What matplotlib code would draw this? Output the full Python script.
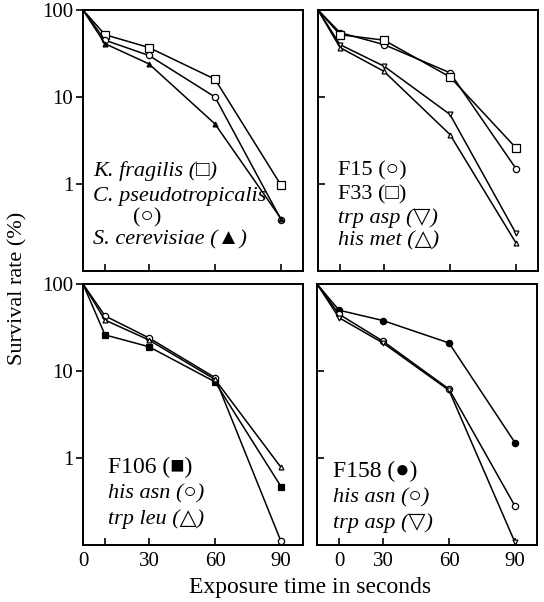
import matplotlib
matplotlib.use('Agg')
import matplotlib.pyplot as plt

# ── Data ───────────────────────────────────────────
times = [0, 10, 30, 60, 90]

# top left
k_fragilis   = [100, 52, 37, 16, 0.97]
c_pseudo     = [100, 45, 30, 10, 0.39]
s_cerevisiae = [100, 41, 24, 4.9, 0.40]

# top right
f15         = [100, 55, 40, 19, 1.5]
f33         = [100, 52, 45, 17, 2.6]
trp_asp_tr  = [100, 40, 22.6, 6.3, 0.27]
his_met     = [100, 37, 19.7, 3.7, 0.21]

# bottom left
f106        = [100, 26, 19, 7.5, 0.47]
his_asn_bl  = [100, 43, 24, 8.4, 0.11]
trp_leu     = [100, 38.5, 22.7, 8.0, 0.78]

# bottom right
f158        = [100, 50, 38, 21, 1.5]
his_asn_br  = [100, 45, 22, 6.2, 0.28]
trp_asp_br  = [100, 41, 21, 6.0, 0.107]

SERIF = ['Liberation Serif', 'DejaVu Sans']
plt.rcParams['font.family'] = SERIF

W, H = 544, 602
fig = plt.figure(figsize=(W / 100, H / 100), dpi=100)

def make_ax(x0, y_top, y_bot, width=220):
    return fig.add_axes([x0 / W, 1 - y_bot / H, width / W, (y_bot - y_top) / H])

ax_tl = make_ax(83, 10, 271)
ax_tr = make_ax(318, 10, 271)
ax_bl = make_ax(83, 284, 545)
ax_br = make_ax(317, 284, 545)

TXT = 16   # panel annotation size

def style(ax, left_col, bottom_row, right_xlabels=False):
    ax.set_yscale('log')
    ax.set_xlim(0, 100)
    ax.set_ylim(0.1, 100)
    for s in ax.spines.values():
        s.set_linewidth(1.4)
    ax.minorticks_off()
    if left_col:
        ax.set_yticks([1, 10, 100])
        ax.set_yticklabels(['1', '10', '100'])
        ax.tick_params(axis='y', direction='out', length=5, width=1.2,
                       labelsize=15, pad=2)
    else:
        ax.set_yticks([1, 10])
        ax.set_yticklabels([])
        ax.tick_params(axis='y', direction='in', length=5, width=1.2)
    if bottom_row:
        if right_xlabels:
            ax.set_xticks([10, 30, 60, 90])
            ax.set_xticklabels(['0', '30', '60', '90'])
        else:
            ax.set_xticks([0, 10, 30, 60, 90])
            ax.set_xticklabels(['0', '', '30', '60', '90'])
        ax.tick_params(axis='x', direction='in', length=5, width=1.2,
                       labelsize=15, pad=5)
    else:
        ax.set_xticks([10, 30, 60, 90])
        ax.set_xticklabels([])
        ax.tick_params(axis='x', direction='in', length=5, width=1.2)

def line(ax, y, marker, filled, ms=4.5):
    ax.plot(times, y, color='black', linewidth=1.1, marker=marker,
            markersize=ms, markevery=slice(1, None),
            markerfacecolor='black' if filled else 'white',
            markeredgecolor='black', markeredgewidth=0.9, clip_on=False,
            zorder=3)

# ── Top left ───────────────────────────────────────
line(ax_tl, k_fragilis, 's', False, 5.5)
line(ax_tl, c_pseudo, 'o', False)
line(ax_tl, s_cerevisiae, '^', True, 3.5)
style(ax_tl, True, False)
kw = dict(transform=ax_tl.transAxes, fontsize=TXT, va='center')
ax_tl.text(0.045, 0.383, 'K. fragilis (\u25a1)', style='italic', **kw)
ax_tl.text(0.045, 0.287, 'C. pseudotropicalis', style='italic', **kw)
ax_tl.text(0.29, 0.203, '(\u25cb)', ha='center', **kw)
ax_tl.text(0.045, 0.119, 'S. cerevisiae (\u25b2)', style='italic', **kw)

# ── Top right ──────────────────────────────────────
line(ax_tr, f15, 'o', False)
line(ax_tr, f33, 's', False, 5.5)
line(ax_tr, trp_asp_tr, 'v', False, 3.5)
line(ax_tr, his_met, '^', False, 3.5)
style(ax_tr, False, False)
kw = dict(transform=ax_tr.transAxes, fontsize=TXT, va='center')
ax_tr.text(0.09, 0.383, 'F15 (\u25cb)', **kw)
ax_tr.text(0.09, 0.291, 'F33 (\u25a1)', **kw)
ax_tr.text(0.09, 0.203, 'trp asp (\u25bd)', style='italic', **kw)
ax_tr.text(0.09, 0.115, 'his met (\u25b3)', style='italic', **kw)

# ── Bottom left ────────────────────────────────────
line(ax_bl, f106, 's', True, 4.5)
line(ax_bl, his_asn_bl, 'o', False)
line(ax_bl, trp_leu, '^', False, 3.5)
style(ax_bl, True, True)
kw = dict(transform=ax_bl.transAxes, va='center')
ax_bl.text(0.114, 0.299, 'F106 (\u25a0)', fontsize=17, **kw)
ax_bl.text(0.114, 0.195, 'his asn (\u25cb)', fontsize=TXT, style='italic', **kw)
ax_bl.text(0.114, 0.100, 'trp leu (\u25b3)', fontsize=TXT, style='italic', **kw)

# ── Bottom right ───────────────────────────────────
line(ax_br, f158, 'o', True, 4.5)
line(ax_br, his_asn_br, 'o', False)
line(ax_br, trp_asp_br, 'v', False, 3.5)
style(ax_br, False, True, right_xlabels=True)
kw = dict(transform=ax_br.transAxes, va='center')
ax_br.text(0.073, 0.28, 'F158 (\u25cf)', fontsize=17, **kw)
ax_br.text(0.073, 0.18, 'his asn (\u25cb)', fontsize=TXT, style='italic', **kw)
ax_br.text(0.073, 0.084, 'trp asp (\u25bd)', fontsize=TXT, style='italic', **kw)

# ── Shared labels ──────────────────────────────────
fig.text(18 / W, 1 - 288 / H, 'Survival rate (%)', rotation=90,
         ha='center', va='center', fontsize=16)
fig.text(310 / W, 1 - 588 / H, 'Exposure time in seconds',
         ha='center', va='center', fontsize=17)

fig.savefig('out.png', dpi=100)
